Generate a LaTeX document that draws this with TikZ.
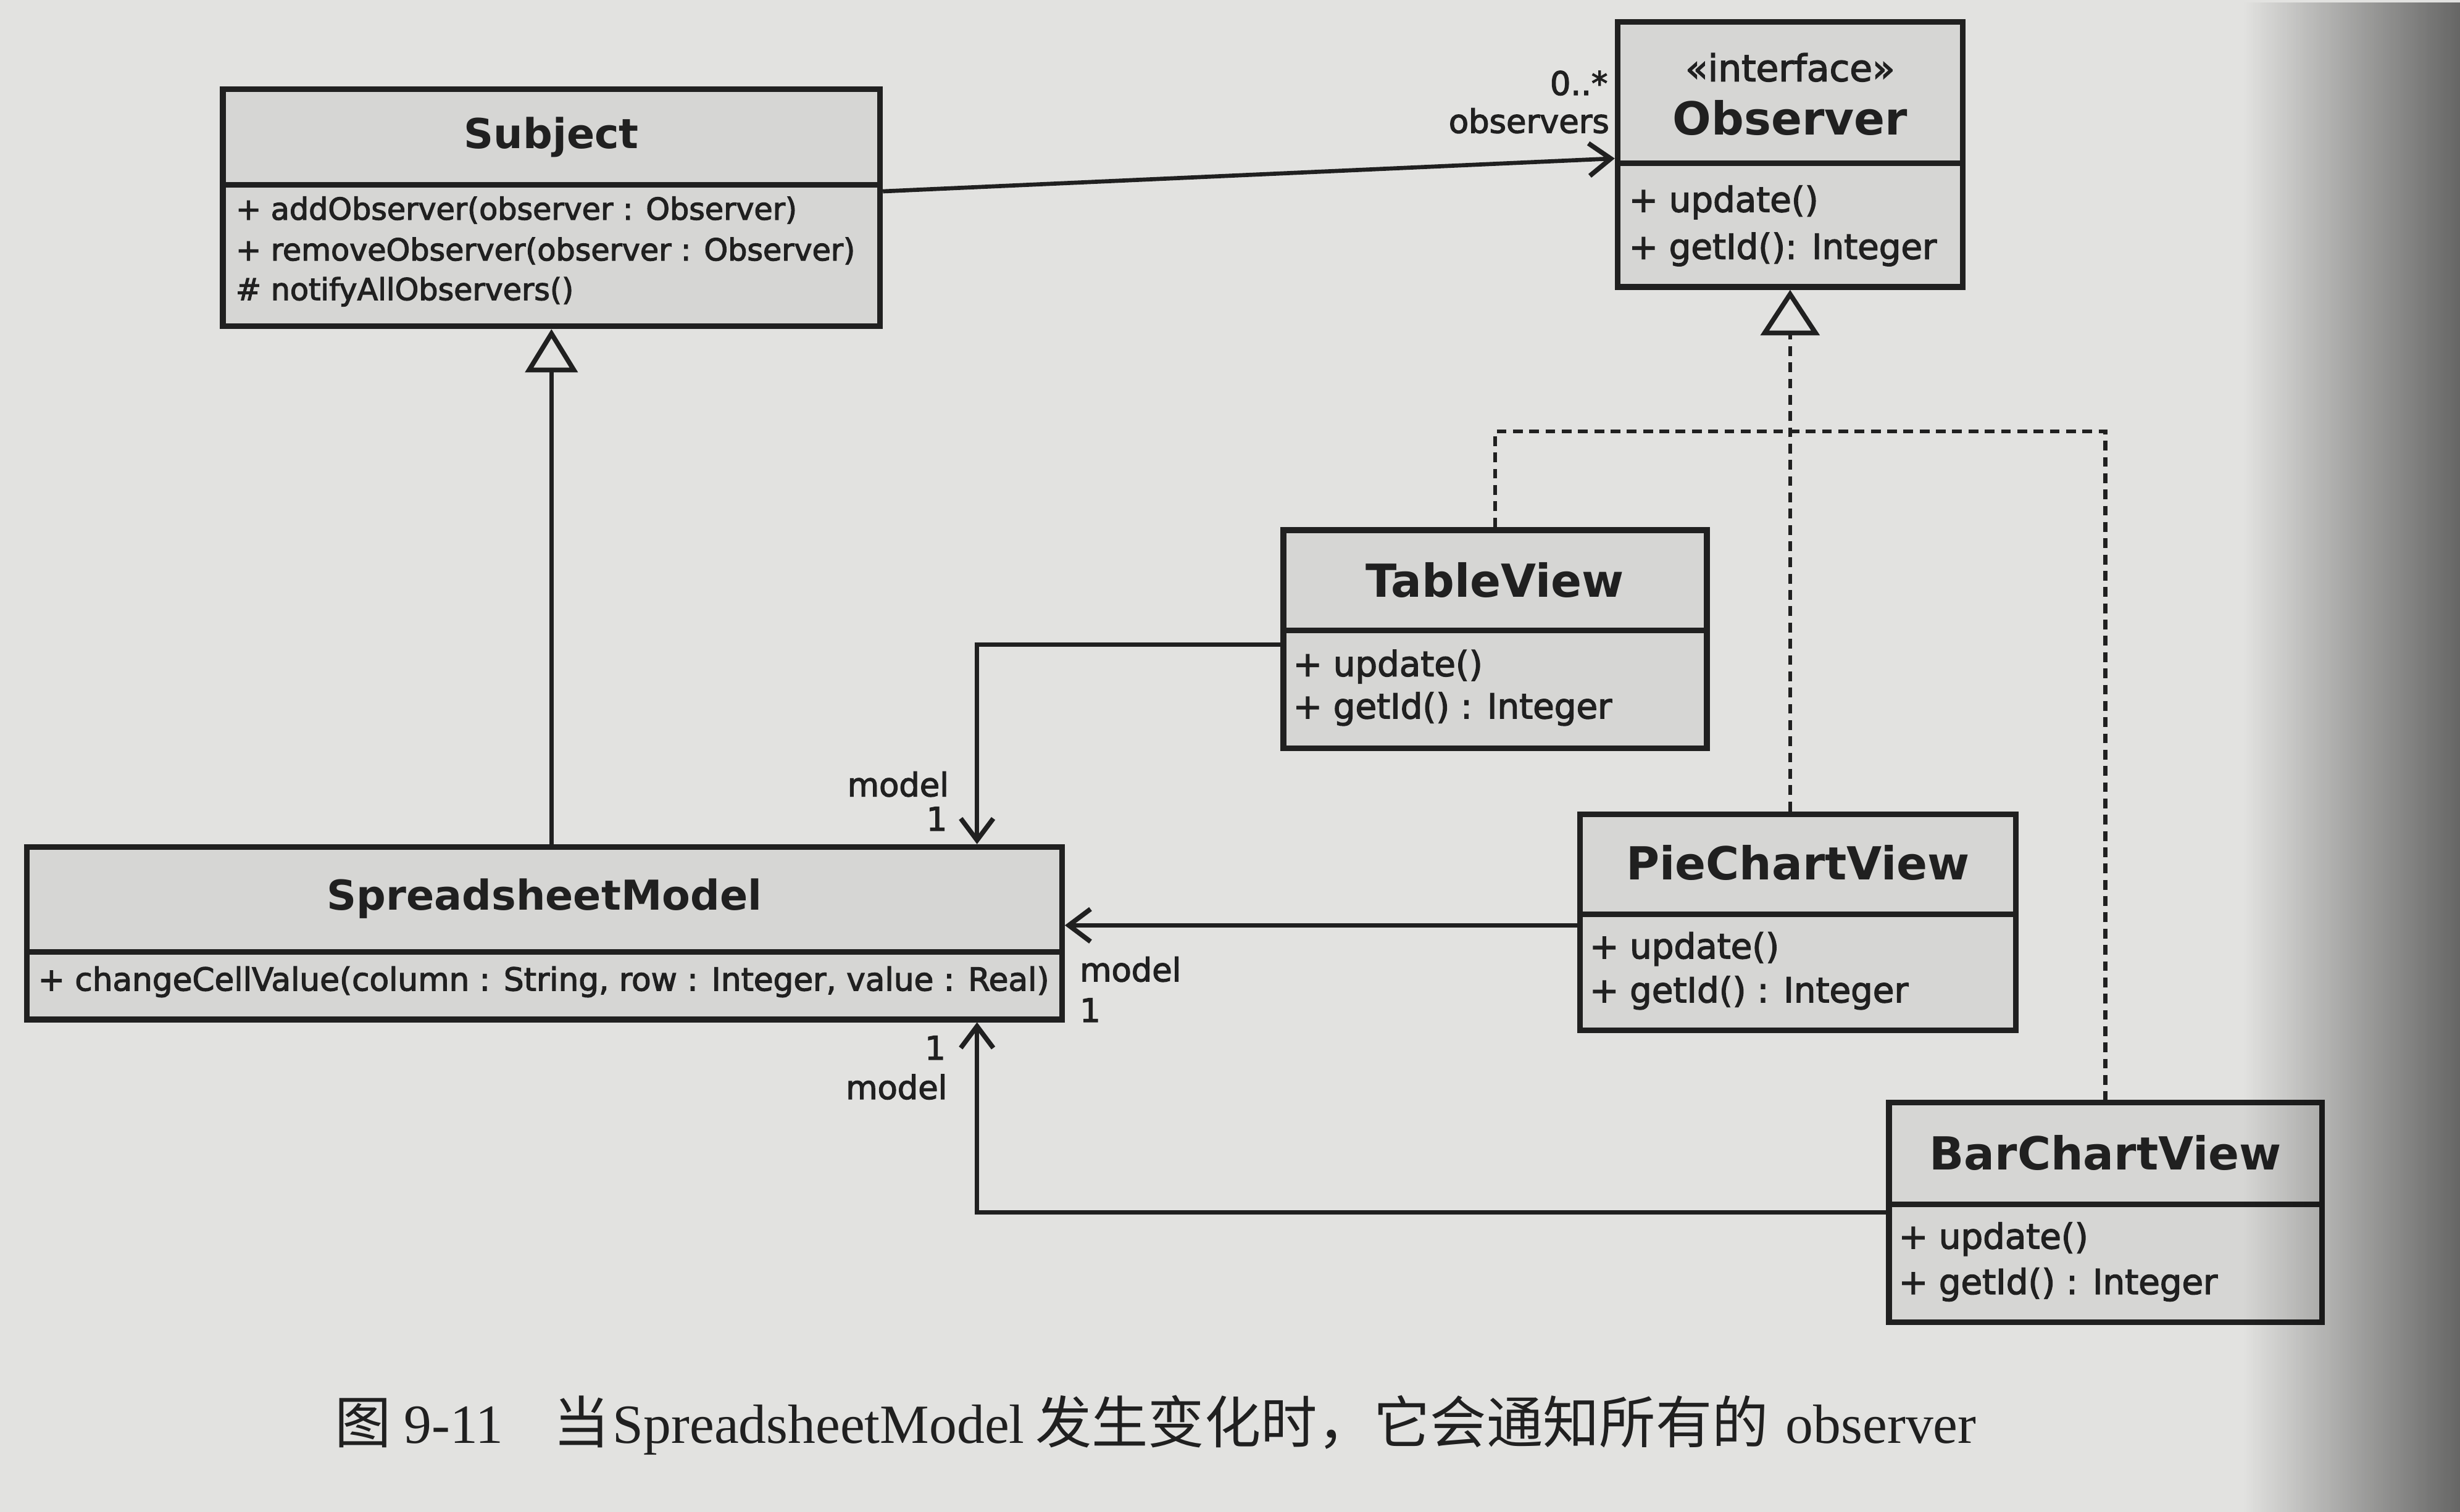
\documentclass[tikz,border=0pt]{standalone}
\usepackage{fontspec}
\setmainfont{DejaVu Sans}
\newfontfamily\medfont[FakeBold=2.5]{DejaVu Sans}
\newfontfamily\capserif{Liberation Serif}
\newfontfamily\cjk{Noto Sans CJK SC}
\usetikzlibrary{arrows.meta,fadings}
\definecolor{paper}{RGB}{226,226,224}
\definecolor{boxfill}{RGB}{214,214,212}
\definecolor{ink}{RGB}{32,32,32}
\tikzfading[name=shadowfade, left color=transparent!100, right color=transparent!0]
\begin{document}
\begin{tikzpicture}[x=0.025415cm,y=-0.025415cm,
  classbox/.style={draw=ink, line width=2.6pt, fill=boxfill, inner sep=0pt, rectangle},
  divline/.style={draw=ink, line width=2.6pt},
  titleL/.style={font=\fontsize{19}{23}\selectfont\bfseries, text=ink, inner sep=0pt},
  titleR/.style={font=\fontsize{21}{25}\selectfont\bfseries, text=ink, inner sep=0pt},
  stereo/.style={font=\medfont\fontsize{17}{20}\selectfont, text=ink, inner sep=0pt},
  memL/.style={font=\medfont\fontsize{14}{17}\selectfont, text=ink, anchor=west, inner sep=0pt},
  memR/.style={font=\medfont\fontsize{16}{19}\selectfont, text=ink, anchor=west, inner sep=0pt},
  lbl/.style={font=\medfont\fontsize{15}{18}\selectfont, text=ink, inner sep=0pt},
  assoc/.style={draw=ink, line width=1.9pt, -{Straight Barb[length=10pt,width=15pt,line width=2.2pt]}},
  gen/.style={draw=ink, line width=1.9pt, -{Triangle[open, length=20pt, width=24pt, line width=2.2pt]}},
  realiz/.style={draw=ink, line width=1.9pt, dash pattern=on 4.5pt off 3pt, -{Triangle[open, length=21pt, width=27pt, line width=2.2pt]}},
  dashline/.style={draw=ink, line width=1.9pt, dash pattern=on 4.5pt off 3pt}
]
% paper
\fill[paper] (0,0) rectangle (1568,964);
\useasboundingbox (0,0) rectangle (1568,964);

% Subject
\node[classbox, minimum width=10.649cm, minimum height=3.838cm] (subject) at (351.5,132.5) {};
\draw[divline] (subject.west |- 0,118) -- (subject.east |- 0,118);
\node[titleL] (subjectT) at (351.5,87.5) {Subject};
\node[memL] (subjectM1) at (150,134) {+ addObserver(observer : Observer)};
\node[memL] (subjectM2) at (150,160) {+ removeObserver(observer : Observer)};
\node[memL] (subjectM3) at (150,186) {\# notifyAllObservers()};

% Observer
\node[classbox, minimum width=5.591cm, minimum height=4.295cm] (observer) at (1141,98.5) {};
\draw[divline] (observer.west |- 0,104) -- (observer.east |- 0,104);
\node[stereo] (observerS) at (1141,43) {«interface»};
\node[titleR] (observerT) at (1141,75) {Observer};
\node[memR] (observerM1) at (1038,129) {+ update()};
\node[memR] (observerM2) at (1038,159) {+ getId(): Integer};

% TableView
\node[classbox, minimum width=6.862cm, minimum height=3.533cm] (table) at (953,407.5) {};
\draw[divline] (table.west |- 0,402) -- (table.east |- 0,402);
\node[titleR] (tableT) at (953,370) {TableView};
\node[memR] (tableM1) at (824,425) {+ update()};
\node[memR] (tableM2) at (824,452) {+ getId() : Integer};

% PieChartView
\node[classbox, minimum width=7.065cm, minimum height=3.507cm] (pie) at (1146,588) {};
\draw[divline] (pie.west |- 0,583) -- (pie.east |- 0,583);
\node[titleR] (pieT) at (1146,550) {PieChartView};
\node[memR] (pieM1) at (1013,605) {+ update()};
\node[memR] (pieM2) at (1013,633) {+ getId() : Integer};

% BarChartView
\node[classbox, minimum width=7.015cm, minimum height=3.558cm] (bar) at (1342,773) {};
\draw[divline] (bar.west |- 0,768) -- (bar.east |- 0,768);
\node[titleR] (barT) at (1342,735) {BarChartView};
\node[memR] (barM1) at (1210,790) {+ update()};
\node[memR] (barM2) at (1210,819) {+ getId() : Integer};

% SpreadsheetModel
\node[classbox, minimum width=16.774cm, minimum height=2.796cm] (model) at (347,595) {};
\draw[divline] (model.west |- 0,607) -- (model.east |- 0,607);
\node[titleL] (modelT) at (347,573) {SpreadsheetModel};
\node[memL, font=\medfont\fontsize{14.7}{17}\selectfont] (modelM1) at (24,626) {+ changeCellValue(column : String, row : Integer, value : Real)};

% connectors
\draw[assoc] ([yshift=0.267cm]subject.east) -- ([yshift=-0.064cm]observer.west);
\node[lbl, anchor=east] (lblA) at (1025,53) {0..*};
\node[lbl, anchor=east] (lblB) at (1026,77) {observers};

\draw[gen] (model.north -| subject.south) -- (subject.south);

\coordinate (rj) at (1141,275);
\draw[realiz] (pie.north -| observer.south) -- (observer.south);
\draw[dashline] (table.north) |- (rj) -| (bar.north);

\draw[assoc] ([yshift=-0.09cm]table.west) -| ([xshift=-1.423cm]model.north east);
\node[lbl, anchor=east] (lblC) at (605,500) {model};
\node[lbl, anchor=east] (lblD) at (604,522) {1};

\draw[assoc] ([yshift=-0.05cm]pie.west) -- ([yshift=-0.05cm]model.east |- pie.west);
\node[lbl, anchor=west] (lblE) at (688,618) {model};
\node[lbl, anchor=west] (lblF) at (688,644) {1};

\draw[assoc] (bar.west) -| ([xshift=-1.423cm]model.south east);
\node[lbl, anchor=east] (lblG) at (603,668) {1};
\node[lbl, anchor=east] (lblH) at (604,693) {model};

% caption
\node[anchor=base west, inner sep=0pt, text=ink] (caption) at (213,920) {\cjk\fontsize{26}{30}\selectfont 图\hspace{6pt}{\capserif\fontsize{25.5}{30}\selectfont 9-11}\hspace{23pt}当\hspace{1.5pt}{\capserif\fontsize{25.5}{30}\selectfont SpreadsheetModel}\hspace{5pt}发生变化时，它会通知所有的\hspace{8pt}{\capserif\fontsize{25.5}{30}\selectfont observer}};

% photo shadow at right edge
\fill[black, fill opacity=0.55, path fading=shadowfade] (1430,0) rectangle (1568,964);
\end{tikzpicture}
\end{document}
